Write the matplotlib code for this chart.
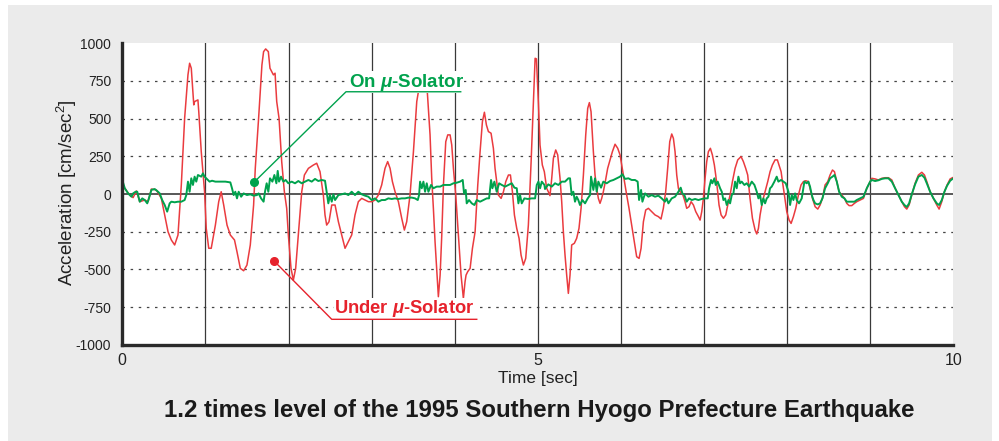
import matplotlib
matplotlib.use("Agg")
import matplotlib.pyplot as plt
import numpy as np

# ---------------- data ----------------
red_t = [0.00, 0.09, 0.13, 0.17, 0.21, 0.27, 0.31, 0.35, 0.41, 0.47, 0.51, 0.55, 0.59, 0.63, 0.67,
         0.71, 0.75, 0.79, 0.81, 0.83, 0.86, 0.87, 0.91, 0.92, 0.95, 0.99, 1.01, 1.04, 1.07, 1.12,
         1.16, 1.19, 1.22, 1.26, 1.30, 1.35, 1.38, 1.42, 1.46, 1.50, 1.54, 1.58, 1.60, 1.64, 1.68,
         1.70, 1.725, 1.757, 1.777, 1.818, 1.838, 1.858, 1.886, 1.918, 1.950, 1.978, 1.998, 2.030,
         2.058, 2.086, 2.118, 2.159, 2.191, 2.239, 2.299, 2.339, 2.379, 2.419, 2.439, 2.459, 2.487,
         2.520, 2.560, 2.600, 2.640, 2.680, 2.720, 2.760, 2.800, 2.840, 2.881, 2.921, 2.961, 3.001,
         3.041, 3.081, 3.121, 3.161, 3.193, 3.222, 3.250, 3.282, 3.322, 3.362, 3.394, 3.422, 3.462,
         3.503, 3.543, 3.563, 3.611, 3.671, 3.683, 3.703, 3.723, 3.743, 3.763, 3.783, 3.803, 3.824,
         3.844, 3.864, 3.892, 3.916, 3.944, 3.964, 3.984, 4.012, 4.044, 4.076, 4.104, 4.124, 4.136,
         4.156, 4.185, 4.213, 4.245, 4.277, 4.305, 4.333, 4.357, 4.381, 4.405, 4.437, 4.465, 4.485,
         4.505, 4.525, 4.558, 4.586, 4.614, 4.646, 4.670, 4.694, 4.718, 4.746, 4.774, 4.798, 4.826,
         4.854, 4.886, 4.919, 4.947, 4.967, 4.983, 5.007, 5.026, 5.054, 5.078, 5.106, 5.126, 5.146,
         5.167, 5.187, 5.215, 5.239, 5.267, 5.287, 5.307, 5.327, 5.347, 5.367, 5.387, 5.407, 5.439,
         5.467, 5.495, 5.520, 5.548, 5.576, 5.600, 5.620, 5.640, 5.668, 5.688, 5.708, 5.728, 5.748,
         5.768, 5.788, 5.808, 5.840, 5.869, 5.897, 5.929, 5.961, 5.989, 6.009, 6.041, 6.069, 6.097,
         6.129, 6.161, 6.189, 6.218, 6.242, 6.270, 6.298, 6.330, 6.370, 6.410, 6.450, 6.482, 6.510,
         6.538, 6.562, 6.587, 6.611, 6.631, 6.651, 6.671, 6.691, 6.711, 6.739, 6.771, 6.791, 6.819,
         6.844, 6.872, 6.900, 6.932, 6.952, 6.972, 6.992, 7.012, 7.032, 7.052, 7.076, 7.100, 7.124,
         7.140, 7.164, 7.180, 7.205, 7.233, 7.261, 7.285, 7.313, 7.341, 7.373, 7.405, 7.445, 7.473,
         7.501, 7.525, 7.553, 7.582, 7.614, 7.634, 7.654, 7.674, 7.702, 7.734, 7.766, 7.794, 7.822,
         7.854, 7.882, 7.902, 7.927, 7.943, 7.967, 7.995, 8.023, 8.047, 8.075, 8.103, 8.135, 8.167,
         8.195, 8.223, 8.255, 8.275, 8.304, 8.336, 8.368, 8.396, 8.424, 8.456, 8.488, 8.516, 8.545,
         8.569, 8.597, 8.625, 8.657, 8.689, 8.717, 8.745, 8.777, 8.809, 8.837, 8.878, 8.918, 8.958,
         8.998, 9.018, 9.058, 9.098, 9.138, 9.178, 9.218, 9.259, 9.299, 9.339, 9.379, 9.411, 9.439,
         9.467, 9.499, 9.539, 9.579, 9.620, 9.652, 9.680, 9.720, 9.760, 9.800, 9.828, 9.860, 9.892,
         9.924, 9.961, 9.989]
red_v = [60, -7, -24, 20, -51, -40, -51, 33, 27, -29, -139, -250, -305, -338, -272,
         60, 502, 790, 867, 834, 591, 613, 624, 546, 281, 15, -228, -360, -360, -206,
         -51, 15, -73, -206, -272, -305, -383, -493, -509, -471, -338, -73, 170, 502, 856,
         944, 962, 944, 834, 790, 801, 613, 502, 215, 15, -95, -272, -493,
         -571, -493, -272, 15, 126, 170, 192, 204, 148, -7, -139, -206, -184,
         -73, -73, -184, -272, -360, -316, -272, -139, -51, -29, -40, -51, -51,
         -40, -7, 60, 170, 215, 170, 82, 15, -51, -161, -239, -184, -7,
         281, 613, 679, 760, 668, 568, 392, 104, -95, -316, -493, -681, -538,
         -272, 60, 347, 392, 392, 325, 170, -7, -272, -538, -692, -582, -538,
         -515, -493, -360, -250, 60, 281, 480, 542, 458, 414, 403, 303, 170,
         82, -7, -29, 15, 82, 126, 126, 15, -139, -228, -294, -405, -471,
         -427, -206, 215, 613, 900, 896, 600, 325, 192, 148, 38, 15, -11,
         104, 237, 292, 259, 104, -51, -250, -405, -538, -659, -538, -338, -327,
         -294, -228, -95, 126, 392, 568, 606, 546, 281, 126, 38, -29, -62,
         -29, 15, 71, 170, 226, 281, 330, 303, 259, 192, 82, -7, -95,
         -206, -316, -416, -427, -360, -184, -106, -95, -117, -139, -150, -166, -95,
         15, 170, 347, 398, 369, 280, 126, 38, 15, 4, -51, -95, -84,
         -51, -73, -117, -150, -173, -117, -29, 104, 215, 281, 303, 259, 192,
         126, 15, -73, -139, -161, -139, -73, -7, 82, 170, 226, 248, 215,
         170, 126, -29, -161, -239, -265, -228, -139, -51, 15, 82, 148, 192,
         226, 226, 192, 148, 82, -7, -117, -173, -195, -150, -95, -7, 60,
         82, 88, 82, 38, -29, -84, -100, -73, -29, 60, 82, 126, 159,
         148, 82, 15, -7, -29, -62, -77, -77, -62, -51, -40, -29, 38,
         82, 104, 100, 93, 104, 108, 108, 93, 38, -7, -51, -84, -100,
         -73, -7, 71, 126, 144, 126, 82, 15, -29, -73, -100, -51, 15,
         60, 100, 108]

green_t = [0.00, 0.03, 0.07, 0.11, 0.13, 0.16, 0.18, 0.21, 0.24, 0.27, 0.30, 0.32, 0.35, 0.39, 0.43,
           0.45, 0.48, 0.51, 0.54, 0.57, 0.59, 0.63, 0.67, 0.71, 0.75, 0.77, 0.79, 0.81, 0.83, 0.85,
           0.87, 0.89, 0.91, 0.95, 0.97, 0.99, 1.03, 1.05, 1.08, 1.12, 1.16, 1.20, 1.24, 1.30, 1.32,
           1.34, 1.36, 1.38, 1.40, 1.43, 1.46, 1.50, 1.54, 1.58, 1.62, 1.64, 1.67, 1.70, 1.717, 1.737,
           1.757, 1.777, 1.806, 1.830, 1.854, 1.870, 1.886, 1.910, 1.938, 1.966, 1.998, 2.038, 2.078,
           2.118, 2.159, 2.199, 2.239, 2.279, 2.319, 2.359, 2.399, 2.439, 2.459, 2.479, 2.499, 2.520,
           2.540, 2.560, 2.600, 2.640, 2.680, 2.720, 2.760, 2.800, 2.840, 2.881, 2.921, 2.961, 3.001,
           3.041, 3.081, 3.121, 3.161, 3.201, 3.242, 3.282, 3.322, 3.362, 3.402, 3.442, 3.483, 3.523,
           3.555, 3.571, 3.583, 3.603, 3.623, 3.643, 3.663, 3.683, 3.715, 3.743, 3.783, 3.824, 3.864,
           3.904, 3.944, 3.984, 4.024, 4.064, 4.096, 4.112, 4.132, 4.144, 4.172, 4.205, 4.237, 4.265,
           4.305, 4.345, 4.385, 4.413, 4.437, 4.453, 4.477, 4.505, 4.534, 4.566, 4.606, 4.646, 4.686,
           4.718, 4.746, 4.766, 4.786, 4.806, 4.838, 4.878, 4.927, 4.967, 4.987, 5.007, 5.027, 5.047,
           5.079, 5.086, 5.126, 5.167, 5.207, 5.247, 5.287, 5.327, 5.367, 5.387, 5.407, 5.427, 5.447,
           5.467, 5.487, 5.507, 5.536, 5.568, 5.600, 5.628, 5.640, 5.668, 5.688, 5.708, 5.728, 5.760,
           5.788, 5.828, 5.869, 5.909, 5.949, 5.989, 6.017, 6.049, 6.089, 6.129, 6.169, 6.201, 6.218,
           6.242, 6.258, 6.290, 6.330, 6.370, 6.410, 6.450, 6.490, 6.530, 6.550, 6.571, 6.611, 6.651,
           6.691, 6.719, 6.739, 6.763, 6.791, 6.819, 6.852, 6.892, 6.932, 6.972, 7.012, 7.044, 7.060,
           7.084, 7.100, 7.124, 7.140, 7.164, 7.193, 7.213, 7.233, 7.253, 7.273, 7.293, 7.313, 7.333,
           7.353, 7.373, 7.393, 7.413, 7.433, 7.453, 7.485, 7.513, 7.542, 7.574, 7.606, 7.634, 7.654,
           7.674, 7.694, 7.714, 7.734, 7.754, 7.774, 7.794, 7.814, 7.846, 7.874, 7.894, 7.927, 7.955,
           7.983, 8.015, 8.035, 8.055, 8.075, 8.095, 8.115, 8.143, 8.175, 8.207, 8.235, 8.255, 8.275,
           8.296, 8.316, 8.336, 8.368, 8.396, 8.424, 8.456, 8.488, 8.516, 8.545, 8.569, 8.597, 8.625,
           8.657, 8.689, 8.717, 8.745, 8.777, 8.809, 8.837, 8.878, 8.918, 8.958, 8.998, 9.018, 9.058,
           9.098, 9.138, 9.178, 9.218, 9.259, 9.299, 9.339, 9.379, 9.411, 9.439, 9.467, 9.499, 9.539,
           9.579, 9.620, 9.652, 9.680, 9.720, 9.760, 9.800, 9.828, 9.860, 9.892, 9.924, 9.961, 9.989]
green_v = [93, 38, 4, -18, 4, 15, 15, -51, -29, -40, -62, -29, 27, 33, 15,
           4, -40, -73, -117, -62, -51, -55, -51, -51, -40, -7, 82, 15, 104, 60,
           115, 82, 126, 115, 137, 115, 93, 82, 88, 82, 82, 82, 82, 77, 38,
           -7, 15, -29, 15, -18, 4, -7, -2, -11, -7, 4, -29, -51, 15, 71,
           15, 104, 82, 126, 71, 153, 82, 115, 82, 93, 71, 82, 71,
           86, 71, 82, 93, 82, 100, 86, 93, 88, 15, -62, -7, -51,
           -2, -40, -7, -2, 4, -7, 15, -7, 15, -2, -11, -18, -40,
           -29, -51, -40, -40, -29, -33, -29, -33, -29, -29, -24, -24, -29,
           -40, -7, 82, 38, 82, 15, 71, 15, 60, 38, 49, 49, 60,
           60, 60, 71, 75, 82, 93, 4, 27, -62, -40, -62, -73, -40,
           -51, -40, -29, -29, 93, 38, 82, 15, 71, 60, 49, 60, 71,
           42, 38, -62, -7, -62, -29, -33, -29, -29, 60, 82, 38, 82,
           60, 33, 64, 49, 71, 60, 82, 82, 104, 104, -7, 15, -51,
           -18, -40, -73, -40, -62, -29, -7, 115, 27, 104, 15, 82, 42,
           82, 71, 86, 93, 104, 115, 131, 100, 104, 93, 93, 82, -40,
           27, -51, 4, -18, -7, -18, -11, -29, -51, -29, -62, -29, -18,
           15, 42, 4, -7, -51, -29, -40, -33, -40, -33, -29, -29, 38,
           93, 71, 104, 60, 82, 38, 15, -40, -29, -73, -40, -62, -7,
           4, 82, 38, 115, 71, 82, 60, 71, 49, 82, 60, 15, -29,
           -7, -73, -29, -62, -29, -18, 38, 49, 82, 115, 82, 93, 82,
           71, 15, -73, -7, -40, 4, -40, -62, -29, 82, 71, 82, 49,
           -7, -40, -62, -69, -62, -29, 38, 71, 104, 115, 126, 82, 15,
           -18, -29, -51, -51, -51, -51, -40, -29, -18, 38, 82, 93, 86,
           91, 100, 104, 104, 82, 38, -7, -51, -73, -86, -62, -2, 64,
           115, 126, 108, 71, 15, -29, -62, -73, -40, 15, 55, 88, 100]

y_ticks = [-1000, -750, -500, -250, 0, 250, 500, 750, 1000]
x_ticks = [0, 5, 10]
x_lines = [1, 2, 3, 4, 5, 6, 7, 8, 9]
grid_levels = [-750, -500, -250, 250, 500, 750]

title = "1.2 times level of the 1995 Southern Hyogo Prefecture Earthquake"
green_label = "On $\\mu$-Solator"
red_label = "Under $\\mu$-Solator"

# ---------------- styling ----------------
plt.rcParams['font.family'] = ['Liberation Sans', 'DejaVu Sans']
plt.rcParams['mathtext.fontset'] = 'custom'
plt.rcParams['mathtext.it'] = 'Liberation Sans:bold:italic'
plt.rcParams['mathtext.rm'] = 'Liberation Sans'

RED_LINE = '#ea3b3f'
RED_TXT = '#e6222c'
GREEN = '#00a24d'
BG = '#ebebeb'

fig = plt.figure(figsize=(9.99, 4.41), dpi=100)
fig.patch.set_facecolor('white')
# grey panel
fig.patches.append(plt.Rectangle((8 / 999, 0), (992 - 8) / 999, (441 - 5) / 441,
                                 transform=fig.transFigure, facecolor=BG,
                                 edgecolor='none', zorder=-10))

ax = fig.add_axes([122.3 / 999, (441 - 344.8) / 441, (953.4 - 122.3) / 999, (344.8 - 43.2) / 441])
ax.set_facecolor('white')
ax.set_xlim(0, 10)
ax.set_ylim(-1000, 1000)

for s in ['top', 'right']:
    ax.spines[s].set_visible(False)
for s in ['left', 'bottom']:
    ax.spines[s].set_linewidth(2.4)
    ax.spines[s].set_color('#2a2a2a')
    ax.spines[s].set_zorder(6)

for lv in grid_levels:
    ax.axhline(lv, color='#444444', lw=0.9, ls=(0, (2, 4.5)), zorder=1)
for xl in x_lines:
    ax.axvline(xl, color='#3a3a3a', lw=0.9, zorder=1)
ax.axhline(0, color='#4a4a4a', lw=1.3, zorder=2)

ax.plot(red_t, red_v, color=RED_LINE, lw=1.1, zorder=3)
ax.plot(green_t, green_v, color=GREEN, lw=1.4, zorder=4)

ax.set_yticks(y_ticks)
ax.set_yticklabels([str(v) for v in y_ticks], fontsize=10, color='#222222')
ax.set_xticks(x_ticks)
ax.set_xticklabels([str(v) for v in x_ticks], fontsize=11.5, color='#222222')
ax.tick_params(axis='both', length=0)
ax.tick_params(axis='y', pad=8)
ax.tick_params(axis='x', pad=6)

ax.set_xlabel("Time [sec]", fontsize=12.5, color='#222222', labelpad=2)
ax.set_ylabel("Acceleration [cm/sec$^{\\mathregular{2}}$]", fontsize=13.5, color='#222222')
ax.yaxis.set_label_coords(-0.052, 0.505)

# annotation: On mu-Solator
ax.text(2.728, 712, green_label, color=GREEN, fontsize=13.5, fontweight='bold',
        va='baseline', ha='left', zorder=9,
        bbox=dict(facecolor='white', edgecolor='none', pad=0.3))
ax.plot([1.585, 2.692, 4.072], [78, 678, 678], color=GREEN, lw=1.0, zorder=10, clip_on=False)
ax.plot([1.585], [78], 'o', color=GREEN, ms=5.5, zorder=11)

# annotation: Under mu-Solator
ax.text(2.548, -791, red_label, color=RED_TXT, fontsize=13.2, fontweight='bold',
        va='baseline', ha='left', zorder=9,
        bbox=dict(facecolor='white', edgecolor='none', pad=0.3))
ax.plot([1.826, 2.520, 4.265], [-444, -831, -831], color=RED_TXT, lw=1.0, zorder=10, clip_on=False)
ax.plot([1.826], [-444], 'o', color=RED_TXT, ms=5.5, zorder=11)

fig.text(539 / 999, 1 - 411 / 441, title, fontsize=17.3, fontweight='bold',
         color='#1a1a1a', ha='center', va='center')

fig.savefig('out.png', dpi=100, facecolor=fig.get_facecolor())
